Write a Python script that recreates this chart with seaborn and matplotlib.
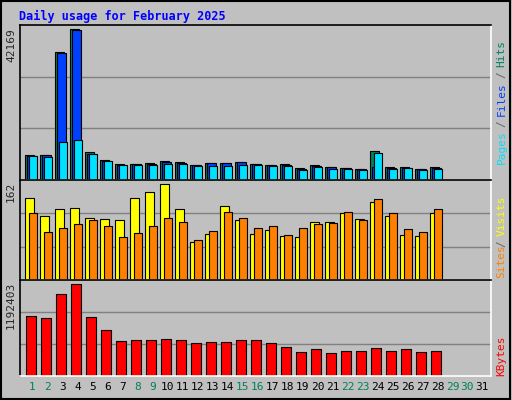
import numpy as np
import matplotlib
matplotlib.use('Agg')
import matplotlib.pyplot as plt
import seaborn as sns

days = list(range(1, 32))
weekend = [1, 2, 8, 9, 15, 16, 22, 23, 29, 30]

# values (days 1-28)
hits = [6965, 6965, 35870, 42169, 7823, 5533, 4389, 4389, 4675, 5247, 4961, 4102, 4675, 4675, 4961,
        4389, 4102, 4389, 3244, 4102, 3530, 3244, 2958, 8109, 3530, 3530, 2958, 3530]
files = [6679, 6965, 35584, 41882, 7250, 5247, 4102, 4389, 4389, 4961, 4675, 4102, 4675, 4675, 4961,
         4389, 4102, 4102, 2958, 3816, 3530, 3244, 2958, 3600, 3244, 3244, 2958, 3244]
pages = [6679, 6393, 10686, 11258, 7250, 5247, 4102, 4102, 4102, 4389, 4389, 3816, 3816, 3816, 4102,
         4102, 3816, 3816, 2672, 3530, 2958, 2958, 2672, 7536, 2958, 3244, 2672, 2958]
visits = [139, 109, 120, 122, 106, 103, 101, 139, 149, 162, 120, 64, 78, 125, 101,
          78, 85, 74, 73, 99, 99, 113, 104, 132, 108, 76, 74, 113]
sites = [113, 81, 88, 95, 102, 92, 73, 80, 92, 106, 99, 67, 83, 115, 106,
         88, 92, 76, 88, 95, 97, 116, 101, 137, 113, 86, 81, 120]
kbytes = [778300, 752200, 1065500, 1192403, 765200, 595500, 451900, 465000, 465000, 478100, 465000,
          425900, 438900, 438900, 465000, 465000, 425900, 373700, 308400, 347600, 295300, 321500,
          321500, 360600, 321500, 347600, 308400, 321500]

sns.set_style('white')
plt.rcParams['font.family'] = ['DejaVu Sans Mono']

fig = plt.figure(figsize=(5.12, 4.0), dpi=100, facecolor='#c0c0c0')
fig.patches.append(plt.Rectangle((0.002, 0.003), 0.995, 0.994, transform=fig.transFigure,
                                 fill=False, edgecolor='black', lw=1.5))
fig.text(0.037, 0.958, 'Daily usage for February 2025', color='#0000ff', fontsize=8.5,
         fontweight='bold', va='center')

L, W = 0.039, 0.92
ax1 = fig.add_axes([L, 0.55, W, 0.3875])
ax2 = fig.add_axes([L, 0.30, W, 0.25])
ax3 = fig.add_axes([L, 0.06, W, 0.24])

x = np.array(days[:28])
bar_kw = dict(align='edge', edgecolor='black', linewidth=0.8)

ax1.bar(x - 0.5 + 0.0, hits, width=0.6, color='#00805c', **bar_kw)
ax1.bar(x - 0.5 + 0.13, files, width=0.58, color='#0040ff', **bar_kw)
ax1.bar(x - 0.5 + 0.27, pages, width=0.5, color='#00e0ff', **bar_kw)
ax1.set_ylim(0, max(hits) * 455 / 442)

ax2.bar(x - 0.5, visits, width=0.6, color='#ffff00', **bar_kw)
ax2.bar(x - 0.5 + 0.27, sites, width=0.5, color='#ff8000', **bar_kw)
ax2.set_ylim(0, max(visits) * 290 / 277)

ax3.bar(x - 0.5 + 0.07, kbytes, width=0.68, color='#ff0000', **bar_kw)
ax3.set_ylim(0, max(kbytes) * 286 / 274)

tops = [max(hits), max(visits), max(kbytes)]
for ax, top in zip([ax1, ax2, ax3], tops):
    ax.set_facecolor('#c0c0c0')
    ax.set_xlim(0.167, 31.57)
    lim = ax.get_ylim()[1]
    for g in (lim / 3, 2 * lim / 3):
        ax.axhline(g, color='#808080', lw=1, zorder=0)
    ax.set_yticks([])
    ax.set_xticks([])
    for s in ['top', 'left']:
        ax.spines[s].set_color('black')
    for s in ['bottom', 'right']:
        ax.spines[s].set_color('white')
    for s in ax.spines.values():
        s.set_linewidth(1.2)
    ax.text(-0.008, 1 - 0.02, str(top), transform=ax.transAxes, rotation=90,
            ha='right', va='top', fontsize=8)

ax3.set_xticks(days)
ax3.set_xticklabels([str(d) for d in days], fontsize=8)
ax3.tick_params(axis='x', length=0, pad=4)
for lbl, d in zip(ax3.get_xticklabels(), days):
    lbl.set_color('#00805c' if d in weekend else 'black')

def right_label(ax, parts, y0):
    y = y0
    for word, col, frac in parts:
        ax.text(1.012, y, word, transform=ax.transAxes, rotation=90, color=col,
                ha='left', va='bottom', fontsize=8)
        y += frac

right_label(ax1, [('Pages', '#00e0ff', 0.24), ('/', '#606060', 0.07), ('Files', '#0040ff', 0.25),
                  ('/', '#606060', 0.07), ('Hits', '#00805c', 0)], 0.1)
right_label(ax2, [('Sites', '#ff8000', 0.31), ('/', '#606060', 0.11), ('Visits', '#ffff00', 0)], 0.02)
right_label(ax3, [('KBytes', '#ff0000', 0)], 0.0)

fig.savefig('out.png', dpi=100, facecolor='#c0c0c0')
